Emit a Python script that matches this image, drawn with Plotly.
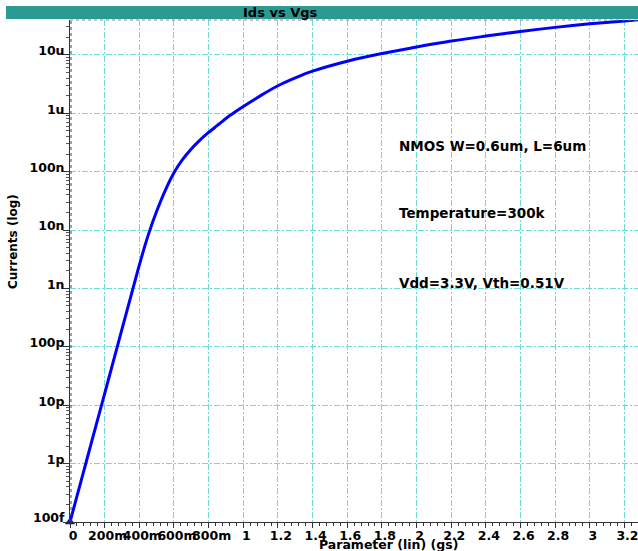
import plotly.graph_objects as go

# ---- data ----
vgs = [0.0, 0.05, 0.1, 0.15, 0.2, 0.25, 0.3, 0.35, 0.4, 0.45, 0.5, 0.55, 0.6, 0.65,
       0.7, 0.75, 0.8, 0.85, 0.9, 0.95, 1.0, 1.1, 1.2, 1.3, 1.4, 1.6, 1.8, 2.0, 2.2,
       2.4, 2.6, 2.8, 3.0, 3.2, 3.3]
ids = [1.0e-13, 3.55e-13, 1.26e-12, 4.47e-12, 1.58e-11, 5.62e-11, 2.00e-10, 7.08e-10,
       2.51e-9, 7.94e-9, 2.09e-8, 4.79e-8, 9.55e-8, 1.62e-7, 2.45e-7, 3.47e-7, 4.68e-7,
       6.17e-7, 8.13e-7, 1.035e-6, 1.30e-6, 2.00e-6, 2.95e-6, 4.03e-6, 5.25e-6, 7.76e-6,
       1.05e-5, 1.36e-5, 1.72e-5, 2.09e-5, 2.51e-5, 2.95e-5, 3.39e-5, 3.80e-5, 4.03e-5]

y_tickvals = [1e-13, 1e-12, 1e-11, 1e-10, 1e-9, 1e-8, 1e-7, 1e-6, 1e-5]
y_ticktext = ["100f", "1p", "10p", "100p", "1n", "10n", "100n", "1u", "10u"]
x_tickvals = [0, 0.2, 0.4, 0.6, 0.8, 1.0, 1.2, 1.4, 1.6, 1.8, 2.0, 2.2, 2.4, 2.6, 2.8, 3.0, 3.2]
x_ticktext = ["0", "200m", "400m", "600m", "800m", "1", "1.2", "1.4", "1.6", "1.8", "2",
              "2.2", "2.4", "2.6", "2.8", "3", "3.2"]

title_text = "Ids vs Vgs"
x_title = "Parameter (lin) (gs)"
y_title = "Currents (log)"
notes = ["NMOS W=0.6um, L=6um", "Temperature=300k", "Vdd=3.3V, Vth=0.51V"]

# ---- layout geometry ----
W, H = 638, 551
L, R, T, B = 70, 0, 20, 29
PW, PH = W - L - R, H - T - B


def px(x):
    return (x - L) / PW


def py(y):
    return (H - B - y) / PH


FONT = "DejaVu Sans"
GRID = "#6edcd4"

minor_y = [k * 10.0 ** e for e in range(-13, -4) for k in range(2, 10)]

fig = go.Figure()
fig.add_trace(go.Scatter(x=vgs, y=ids, mode="lines",
                         line=dict(color="#0000ff", width=3, shape="spline", smoothing=0.8),
                         showlegend=False, hoverinfo="skip"))
fig.add_trace(go.Scatter(x=vgs[:1], y=ids[:1], mode="markers",
                         marker=dict(symbol="triangle-up", size=9, color="#0000ff"),
                         cliponaxis=False, showlegend=False, hoverinfo="skip"))

fig.update_layout(
    width=W, height=H,
    margin=dict(l=L, r=R, t=T, b=B, pad=0),
    paper_bgcolor="white", plot_bgcolor="white",
    font=dict(family=FONT, size=12.5, color="black"),
    xaxis=dict(
        range=[0, 3.278], showline=True, linecolor="#333333", linewidth=1,
        tickmode="array", tickvals=x_tickvals, ticktext=x_ticktext, tickangle=0,
        ticks="outside", ticklen=5, tickcolor="#333333",
        tickfont=dict(family=FONT, size=12.5, weight="bold", color="black"),
        ticklabelshift=3, ticklabelstandoff=-3, ticklabeloverflow="allow",
        showgrid=True, gridcolor=GRID, griddash="6px,2px,2px,2px", gridwidth=1,
        minor=dict(dtick=0.04, tick0=0, ticks="outside", ticklen=3, tickcolor="#333333",
                   showgrid=False),
        zeroline=False,
    ),
    yaxis=dict(
        type="log", range=[-13, -4.404], showline=True, linecolor="#333333", linewidth=1,
        tickmode="array", tickvals=y_tickvals, ticktext=y_ticktext,
        ticks="outside", ticklen=6, tickcolor="#333333",
        tickfont=dict(family=FONT, size=12.5, weight="bold", color="black"),
        ticklabelstandoff=-4, ticklabelshift=-4, ticklabeloverflow="allow",
        showgrid=True, gridcolor=GRID, griddash="6px,2px,2px,2px", gridwidth=1,
        minor=dict(tickvals=minor_y, ticks="outside", ticklen=3, tickcolor="#555555",
                   showgrid=False),
        zeroline=False,
    ),
)

shapes = [
    # title bar
    dict(type="rect", xref="paper", yref="paper", x0=px(6), x1=px(638), y0=py(19), y1=py(6),
         fillcolor="#2a9a92", line=dict(width=0), layer="above"),
    # dotted top border
    dict(type="line", xref="paper", yref="paper", x0=0, x1=1, y0=1, y1=1,
         line=dict(color="#888888", width=1, dash="dot"), layer="above"),
    # dotted left line
    dict(type="line", xref="paper", yref="paper", x0=px(71), x1=px(71), y0=0, y1=1,
         line=dict(color="#444444", width=1, dash="dot"), layer="above"),
]
fig.update_layout(shapes=shapes)

ann = [
    dict(text="<b>%s</b>" % title_text, x=px(280), y=py(12.5), xanchor="center", yanchor="middle",
         font=dict(size=13, family=FONT, color="black")),
    dict(text="<b>%s</b>" % x_title, x=px(388), y=py(544), xanchor="center", yanchor="middle",
         font=dict(size=12.5, family=FONT, color="black")),
    dict(text="<b>%s</b>" % y_title, x=px(13), y=py(242), xanchor="center", yanchor="middle",
         textangle=-90, font=dict(size=12, family=FONT, color="black")),
]
for t, yy in zip(notes, [146, 213, 283]):
    ann.append(dict(text="<b>%s</b>" % t, x=px(397), y=py(yy), xanchor="left", yanchor="middle",
                    font=dict(size=13.5, family=FONT, color="black")))
for a in ann:
    a.update(xref="paper", yref="paper", showarrow=False)
fig.update_layout(annotations=ann)

fig.write_html("out.html",
               config={"displayModeBar": False},
               post_script="document.body.style.margin='0';"
                           "document.body.style.overflow='hidden';")
